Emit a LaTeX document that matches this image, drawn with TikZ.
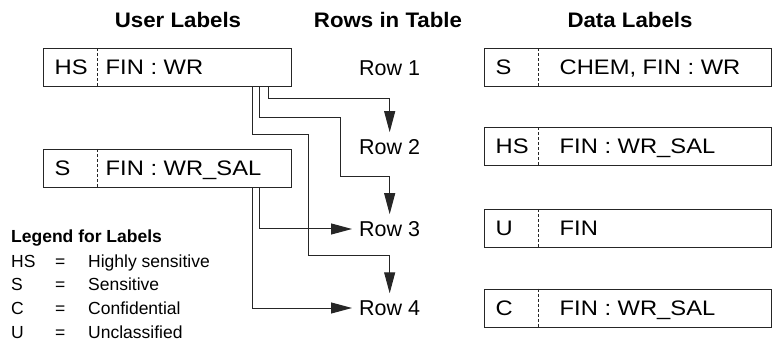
\documentclass[tikz,border=0pt]{standalone}
\usepackage{fontspec}
\setmainfont{Liberation Sans}
\newfontfamily\boxfont[FakeStretch=1.13]{Liberation Sans}
\newfontfamily\headfont[FakeStretch=1.06]{Liberation Sans}
\usepackage{tikz}
\usetikzlibrary{arrows.meta,positioning,calc}
\newcommand{\txtsize}{\fontsize{21}{25}\selectfont}

\begin{document}
\begin{tikzpicture}[x=1pt,y=-1pt,
  lblbox/.style={draw=black!85,line width=1pt,minimum height=38pt,inner sep=0pt},
  lbltext/.style={anchor=base west,inner sep=0pt,font=\boxfont\txtsize},
  divider/.style={black!85,line width=0.8pt,dash pattern=on 3pt off 2pt},
  rowlbl/.style={anchor=west,inner xsep=7pt,inner ysep=7pt,font=\fontsize{21.5}{25}\selectfont},
  head/.style={font=\headfont\fontsize{21}{25}\selectfont\bfseries},
  wire/.style={line width=1pt,black!85,-{Triangle[length=21pt,width=11pt]}},
]
  \useasboundingbox (0,0) rectangle (772,342);
  % column heads
  \node[head] (hu) at (178,20) {User Labels};
  \node[head] (hr) at (388,20) {Rows in Table};
  \node[head] (hd) at (630,20) {Data Labels};
  % user labels
  \node[lblbox,minimum width=248pt] (u1) at (167,68) {};
  \node[lbltext] (u1l) at ([xshift=12pt,yshift=-7pt]u1.west) {HS};
  \node[lbltext] (u1c) at ([xshift=63pt,yshift=-7pt]u1.west) {FIN : WR};
  \draw[divider] ([xshift=55pt]u1.north west) -- ([xshift=55pt]u1.south west);
  \node[lblbox,minimum width=248pt] (u2) at (167,168.5) {};
  \node[lbltext] (u2l) at ([xshift=12pt,yshift=-7pt]u2.west) {S};
  \node[lbltext] (u2c) at ([xshift=63pt,yshift=-7pt]u2.west) {FIN : WR\_SAL};
  \draw[divider] ([xshift=55pt]u2.north west) -- ([xshift=55pt]u2.south west);
  % rows
  \node[rowlbl] (r1) at (352,68) {Row 1};
  \node[rowlbl] (r2) at (352,147) {Row 2};
  \node[rowlbl] (r3) at (352,229) {Row 3};
  \node[rowlbl] (r4) at (352,308) {Row 4};
  % data labels
  \node[lblbox,minimum width=287pt] (d1) at (627.5,68) {};
  \node[lbltext] (d1l) at ([xshift=12pt,yshift=-7pt]d1.west) {S};
  \node[lbltext] (d1c) at ([xshift=76pt,yshift=-7pt]d1.west) {CHEM, FIN : WR};
  \draw[divider] ([xshift=55pt]d1.north west) -- ([xshift=55pt]d1.south west);
  \node[lblbox,minimum width=287pt] (d2) at (627.5,147) {};
  \node[lbltext] (d2l) at ([xshift=12pt,yshift=-7pt]d2.west) {HS};
  \node[lbltext] (d2c) at ([xshift=76pt,yshift=-7pt]d2.west) {FIN : WR\_SAL};
  \draw[divider] ([xshift=55pt]d2.north west) -- ([xshift=55pt]d2.south west);
  \node[lblbox,minimum width=287pt] (d3) at (627.5,229) {};
  \node[lbltext] (d3l) at ([xshift=12pt,yshift=-7pt]d3.west) {U};
  \node[lbltext] (d3c) at ([xshift=76pt,yshift=-7pt]d3.west) {FIN};
  \draw[divider] ([xshift=55pt]d3.north west) -- ([xshift=55pt]d3.south west);
  \node[lblbox,minimum width=287pt] (d4) at (627.5,308) {};
  \node[lbltext] (d4l) at ([xshift=12pt,yshift=-7pt]d4.west) {C};
  \node[lbltext] (d4c) at ([xshift=76pt,yshift=-7pt]d4.west) {FIN : WR\_SAL};
  \draw[divider] ([xshift=55pt]d4.north west) -- ([xshift=55pt]d4.south west);
  % legend
  \node[anchor=north west,inner sep=0pt,font=\fontsize{17.5}{24}\selectfont] (leg) at (11,226) {%
    \begin{tabular}{@{}p{44pt}@{}p{33pt}@{}l@{}}
      \multicolumn{3}{@{}l@{}}{\bfseries Legend for Labels}\\
      HS & = & Highly sensitive\\
      S  & = & Sensitive\\
      C  & = & Confidential\\
      U  & = & Unclassified
    \end{tabular}};
  % wires from user labels to rows
  \draw[wire] ([xshift=-23pt]u1.south east) |- ([yshift=34pt]r2.north) -- (r2.north);
  \draw[wire] ([xshift=-32pt]u1.south east) -- ++(0,30) -- ++(81,0) |- ([yshift=38pt]r3.north) -- (r3.north);
  \draw[wire] ([xshift=-39pt]u1.south east) -- ++(0,47) -- ++(56,0) |- ([yshift=38pt]r4.north) -- (r4.north);
  \draw[wire] ([xshift=-32pt]u2.south east) |- (r3.west);
  \draw[wire] ([xshift=-39pt]u2.south east) |- (r4.west);
\end{tikzpicture}
\end{document}
